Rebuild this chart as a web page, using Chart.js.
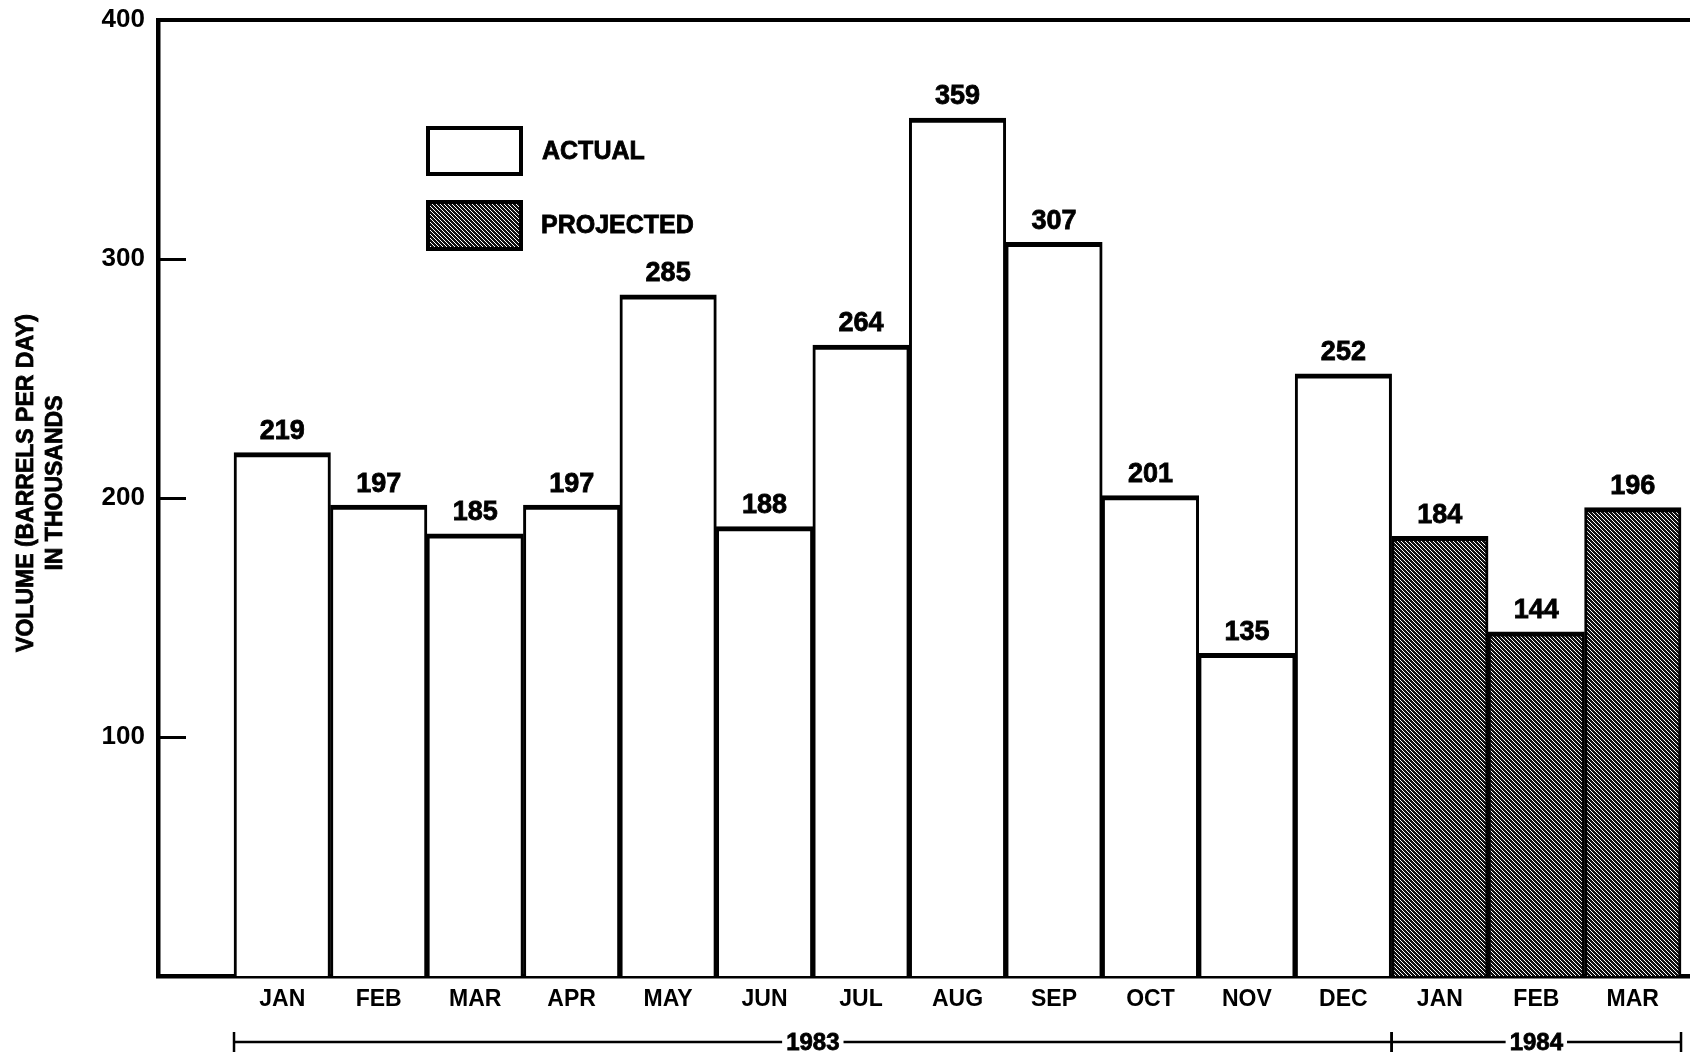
<!DOCTYPE html>
<html>
<head>
<meta charset="utf-8">
<script src="https://cdn.jsdelivr.net/npm/chart.js@4.4.0/dist/chart.umd.min.js"></script>
<style>
  html, body { margin: 0; padding: 0; background: #fff; }
  canvas { display: block; }
</style>
</head>
<body>
<canvas id="chart" width="1690" height="1054"></canvas>
<script>
"use strict";

// Data
var months = ["JAN", "FEB", "MAR", "APR", "MAY", "JUN", "JUL", "AUG", "SEP", "OCT", "NOV", "DEC", "JAN", "FEB", "MAR"];
var actual = [219, 197, 185, 197, 285, 188, 264, 359, 307, 201, 135, 252];
var projected = [184, 144, 196];
var years = ["1983", "1984"];
var yearMonths = [12, 3];
var yTicks = [100, 200, 300, 400];

var boldFont = "'Liberation Sans', Arial, sans-serif";

// hatched fill for projected bars
function hatch() {
    var s = 4;
    var c = document.createElement("canvas");
    c.width = s; c.height = s;
    var g = c.getContext("2d");
    g.fillStyle = "#111";
    g.fillRect(0, 0, s, s);
    g.strokeStyle = "#fff";
    g.lineWidth = 1;
    for (var k = -1; k <= 1; k++) {
        g.beginPath();
        g.moveTo(0, k * s);
        g.lineTo(s, s + k * s);
        g.stroke();
    }
    return g.createPattern(c, "repeat");
}
var hatchFill = hatch();

var actualPts = actual.map(function (v, i) { return {x: i, y: v}; });
var projPts = projected.map(function (v, i) { return {x: actual.length + i, y: v}; });

var barBorder = {top: 5, left: 3, right: 3, bottom: 0};

// heavy text: fill plus a thin stroke
function heavyText(ctx, txt, x, y) {
    ctx.fillText(txt, x, y);
    ctx.strokeText(txt, x, y);
}

// Value labels above bars
var valueLabels = {
    id: "valueLabels",
    afterDatasetsDraw: function (chart) {
        var ctx = chart.ctx;
        ctx.save();
        ctx.fillStyle = "#000";
        ctx.strokeStyle = "#000";
        ctx.lineWidth = 0.8;
        ctx.font = "bold 27px " + boldFont;
        ctx.textAlign = "center";
        ctx.textBaseline = "middle";
        chart.data.datasets.forEach(function (ds, di) {
            chart.getDatasetMeta(di).data.forEach(function (el, i) {
                heavyText(ctx, String(ds.data[i].y), el.x, el.y - 21);
            });
        });
        ctx.restore();
    }
};

// Frame top line, legend, axis title, year brackets
var decorations = {
    id: "decorations",
    afterDraw: function (chart) {
        var ctx = chart.ctx;
        var area = chart.chartArea;
        var xs = chart.scales.x;
        ctx.save();

        // top line of frame
        ctx.strokeStyle = "#000";
        ctx.lineWidth = 4;
        ctx.beginPath();
        ctx.moveTo(area.left - 2, area.top);
        ctx.lineTo(chart.width, area.top);
        ctx.stroke();

        // legend
        ctx.lineWidth = 4;
        ctx.fillStyle = "#fff";
        ctx.fillRect(428, 128, 93, 46);
        ctx.strokeRect(428, 128, 93, 46);
        ctx.fillStyle = hatchFill;
        ctx.fillRect(428, 202, 93, 47);
        ctx.strokeRect(428, 202, 93, 47);
        ctx.fillStyle = "#000";
        ctx.lineWidth = 0.8;
        ctx.font = "bold 25px " + boldFont;
        ctx.textAlign = "left";
        ctx.textBaseline = "middle";
        heavyText(ctx, "ACTUAL", 542, 152);
        heavyText(ctx, "PROJECTED", 541, 226);

        // y axis title
        ctx.save();
        ctx.translate(27, 483);
        ctx.rotate(-Math.PI / 2);
        ctx.textAlign = "center";
        ctx.font = "bold 23px " + boldFont;
        heavyText(ctx, "VOLUME (BARRELS PER DAY)", 0, 0);
        heavyText(ctx, "IN THOUSANDS", 0, 29);
        ctx.restore();

        // year brackets
        var y = 1042;
        var start = 0;
        ctx.font = "bold 24px " + boldFont;
        ctx.textAlign = "center";
        years.forEach(function (yr, k) {
            var x1 = xs.getPixelForValue(start - 0.5);
            var x2 = xs.getPixelForValue(start + yearMonths[k] - 0.5);
            var mid = (x1 + x2) / 2;
            var half = ctx.measureText(yr).width / 2 + 4;
            ctx.lineWidth = 2.5;
            ctx.beginPath();
            ctx.moveTo(x1, y); ctx.lineTo(mid - half, y);
            ctx.moveTo(mid + half, y); ctx.lineTo(x2, y);
            ctx.moveTo(x1, y - 10); ctx.lineTo(x1, y + 10);
            ctx.moveTo(x2, y - 10); ctx.lineTo(x2, y + 10);
            ctx.stroke();
            ctx.lineWidth = 0.8;
            heavyText(ctx, yr, mid, y + 1);
            start += yearMonths[k];
        });
        ctx.restore();
    }
};

var ctx = document.getElementById("chart").getContext("2d");
var chart = new Chart(ctx, {
    type: "bar",
    data: {
        datasets: [{
            label: "ACTUAL",
            data: actualPts,
            backgroundColor: "#fff",
            borderColor: "#000",
            borderWidth: barBorder,
            grouped: false,
            barPercentage: 1,
            categoryPercentage: 1
        }, {
            label: "PROJECTED",
            data: projPts,
            backgroundColor: hatchFill,
            borderColor: "#000",
            borderWidth: barBorder,
            grouped: false,
            barPercentage: 1,
            categoryPercentage: 1
        }]
    },
    options: {
        responsive: false,
        animation: false,
        layout: {padding: {top: 20, left: 0, right: 0, bottom: 0}},
        plugins: {
            legend: {display: false},
            tooltip: {enabled: false}
        },
        scales: {
            x: {
                type: "linear",
                min: -1.288,
                max: 14.593,
                offset: false,
                bounds: "data",
                z: 1,
                afterBuildTicks: function (s) {
                    s.ticks = months.map(function (m, i) { return {value: i}; });
                },
                afterFit: function (s) {
                    s.height = 78;
                    s.paddingLeft = 0;
                    s.paddingRight = 0;
                },
                grid: {display: false, drawTicks: false},
                border: {display: true, color: "#000", width: 4.5},
                ticks: {
                    color: "#000",
                    padding: 10,
                    maxRotation: 0,
                    autoSkip: false,
                    font: {family: boldFont, size: 23, weight: "bold"},
                    callback: function (v) { return months[v]; }
                }
            },
            y: {
                min: 0,
                max: 400,
                z: 1,
                afterBuildTicks: function (s) {
                    s.ticks = yTicks.map(function (v) { return {value: v}; });
                },
                afterFit: function (s) {
                    s.width = 158;
                    s.paddingTop = 0;
                    s.paddingBottom = 0;
                },
                grid: {
                    drawOnChartArea: false,
                    drawTicks: true,
                    tickLength: -28,
                    tickWidth: 3,
                    tickColor: "#000",
                    lineWidth: 3,
                    color: "#000"
                },
                border: {display: true, color: "#000", width: 4.5},
                ticks: {
                    color: "#000",
                    padding: 41,
                    font: {family: boldFont, size: 26, weight: "bold"}
                }
            }
        }
    },
    plugins: [valueLabels, decorations]
});
</script>
</body>
</html>
